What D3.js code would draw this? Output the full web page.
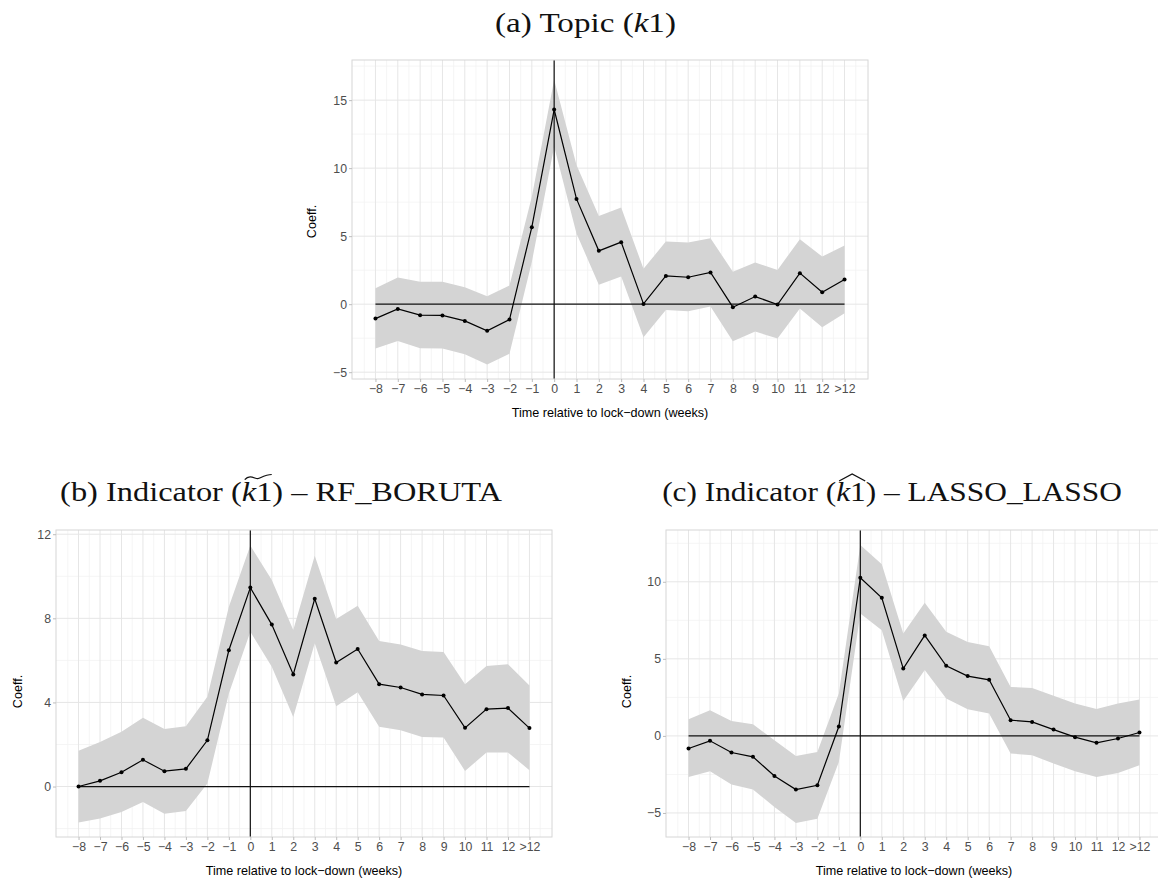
<!DOCTYPE html>
<html>
<head>
<meta charset="utf-8">
<script src="https://cdn.jsdelivr.net/npm/d3@7"></script>
<style>
  body { margin: 0; background: #fff; }
  svg { display: block; }
</style>
</head>
<body>
<svg id="chart" width="1158" height="883"></svg>
<script>
// weeks relative to the lock-down
const weekLabels = ["−8","−7","−6","−5","−4","−3","−2","−1","0","1","2","3","4","5","6","7","8","9","10","11","12",">12"];

// (a) Topic (k1)
const topicCoef  = [-1.06,-0.35,-0.81,-0.83,-1.23,-1.96,-1.13,5.66,14.31,7.74,3.92,4.56,0.02,2.08,1.98,2.33,-0.22,0.56,-0.03,2.28,0.88,1.81];
const topicLower = [-3.26,-2.70,-3.24,-3.26,-3.68,-4.44,-3.65,3.10,11.60,5.20,1.42,2.03,-2.43,-0.42,-0.52,-0.17,-2.72,-2.01,-2.53,-0.32,-1.69,-0.66];
const topicUpper = [1.18,1.96,1.64,1.64,1.25,0.59,1.37,7.90,16.50,10.24,6.49,7.10,2.60,4.60,4.53,4.85,2.38,3.06,2.52,4.78,3.50,4.31];

// (b) Indicator - RF_BORUTA
const borutaCoef  = [0.00,0.27,0.68,1.27,0.73,0.84,2.20,6.48,9.46,7.70,5.33,8.93,5.90,6.54,4.87,4.71,4.38,4.33,2.79,3.68,3.73,2.78];
const borutaLower = [-1.71,-1.52,-1.21,-0.73,-1.29,-1.16,0.14,4.43,7.36,5.70,3.31,6.81,3.82,4.48,2.84,2.68,2.36,2.33,0.74,1.62,1.62,0.78];
const borutaUpper = [1.70,2.12,2.60,3.27,2.74,2.87,4.27,8.55,11.46,9.82,7.44,10.97,7.97,8.60,6.92,6.76,6.44,6.40,4.87,5.73,5.82,4.81];

// (c) Indicator - LASSO_LASSO
const lassoCoef  = [-0.82,-0.32,-1.08,-1.36,-2.60,-3.48,-3.20,0.61,10.26,8.96,4.37,6.52,4.55,3.88,3.64,1.02,0.91,0.41,-0.08,-0.45,-0.17,0.22];
const lassoLower = [-2.66,-2.29,-3.16,-3.48,-4.61,-5.65,-5.37,-1.69,7.95,6.86,2.27,4.27,2.43,1.73,1.45,-1.14,-1.25,-1.79,-2.29,-2.66,-2.40,-1.90];
const lassoUpper = [1.08,1.67,0.97,0.76,-0.28,-1.30,-1.04,2.75,12.38,11.13,6.65,8.64,6.75,6.10,5.82,3.18,3.10,2.60,2.10,1.75,2.10,2.36];

// y axis breaks per panel
const topicTicks  = [-5, 0, 5, 10, 15];
const topicMinor  = [-2.5, 2.5, 7.5, 12.5, 17.5];
const borutaTicks = [0, 4, 8, 12];
const borutaMinor = [-2, 2, 6, 10];
const lassoTicks  = [-5, 0, 5, 10];
const lassoMinor  = [-2.5, 2.5, 7.5, 12.5];

const svg = d3.select("#chart");
const sans = "'Liberation Sans', Arial, sans-serif";
const serif = "'Liberation Serif', 'Times New Roman', serif";

function drawTitle(cfg) {
    // text is drawn at natural width then squeezed/stretched with a scale, accent lives in the same group
    const tg = svg.append("g");
    const t = tg.append("text")
        .attr("x", 0).attr("y", 0)
        .attr("text-anchor", "middle")
        .style("font-family", serif)
        .style("font-size", "27px")
        .attr("fill", "#111");
    cfg.title.forEach(p => {
        const s = t.append("tspan").text(p.t);
        if (p.italic) s.style("font-style", "italic");
    });
    const tn = t.node();
    const ratio = cfg.titleWidth / tn.getComputedTextLength();
    tg.attr("transform", `translate(${cfg.titleX},${cfg.titleY}) scale(${ratio},1)`);

    if (!cfg.accent) return;
    const first = cfg.title.findIndex(p => p.accent);
    const last = cfg.title.length - 1 - [...cfg.title].reverse().findIndex(p => p.accent);
    let start = 0;
    for (let i = 0; i < first; i++) start += cfg.title[i].t.length;
    let end = start - 1;
    for (let i = first; i <= last; i++) end += cfg.title[i].t.length;
    const e0 = tn.getExtentOfChar(start);
    const e1 = tn.getExtentOfChar(end);
    const x0 = e0.x + 2.5, x1 = e1.x + e1.width - 0.5, ya = e0.y + 1;
    const w = x1 - x0;
    let d;
    if (cfg.accent === "tilde") {
        d = `M${x0},${ya + 2} C${x0 + w * 0.2},${ya - 4} ${x0 + w * 0.4},${ya + 2} ${x0 + w * 0.5},${ya + 1}` +
            ` S${x0 + w * 0.8},${ya - 3} ${x1},${ya - 3}`;
    } else {
        d = `M${x0},${ya + 3} L${(x0 + x1) / 2},${ya - 4} L${x1},${ya + 3}`;
    }
    tg.append("path")
        .attr("d", d)
        .attr("fill", "none")
        .attr("stroke", "#111")
        .attr("stroke-width", 1.1);
}

function drawPanel(cfg) {
    const g = svg.append("g");
    const {left, right, top, bottom} = cfg.box;

    const x = d3.scaleLinear()
        .domain([-1.05, weekLabels.length - 1 + 1.05])
        .range([left, right]);
    const y = d3.scaleLinear()
        .domain(cfg.yDomain)
        .range([bottom, top]);

    const idx = weekLabels.map((d, i) => i);
    const xMinor = d3.range(-0.5, weekLabels.length, 1);

    const clip = "clip" + cfg.id;
    g.append("clipPath").attr("id", clip)
        .append("rect")
        .attr("x", left).attr("y", top)
        .attr("width", right - left).attr("height", bottom - top);

    const plot = g.append("g").attr("clip-path", `url(#${clip})`);

    // minor grid
    plot.selectAll(".vminor").data(xMinor).enter().append("line")
        .attr("x1", d => x(d)).attr("x2", d => x(d))
        .attr("y1", top).attr("y2", bottom)
        .attr("stroke", "#f2f2f2").attr("stroke-width", 0.8);
    plot.selectAll(".hminor").data(cfg.yMinor).enter().append("line")
        .attr("x1", left).attr("x2", right)
        .attr("y1", d => y(d)).attr("y2", d => y(d))
        .attr("stroke", "#f2f2f2").attr("stroke-width", 0.8);

    // major grid
    plot.selectAll(".vmajor").data(idx).enter().append("line")
        .attr("x1", d => x(d)).attr("x2", d => x(d))
        .attr("y1", top).attr("y2", bottom)
        .attr("stroke", "#e6e6e6").attr("stroke-width", 1);
    plot.selectAll(".hmajor").data(cfg.yTicks).enter().append("line")
        .attr("x1", left).attr("x2", right)
        .attr("y1", d => y(d)).attr("y2", d => y(d))
        .attr("stroke", "#e6e6e6").attr("stroke-width", 1);

    // confidence band
    const area = d3.area()
        .x((d, i) => x(i))
        .y0((d, i) => y(cfg.lower[i]))
        .y1((d, i) => y(cfg.upper[i]));
    plot.append("path")
        .datum(cfg.coef)
        .attr("fill", "#d4d4d4")
        .attr("d", area);

    // reference lines
    plot.append("line")
        .attr("x1", x(0)).attr("x2", x(weekLabels.length - 1))
        .attr("y1", y(0)).attr("y2", y(0))
        .attr("stroke", "#111").attr("stroke-width", 1.2);
    const zeroWeek = weekLabels.indexOf("0");
    plot.append("line")
        .attr("x1", x(zeroWeek)).attr("x2", x(zeroWeek))
        .attr("y1", top).attr("y2", bottom)
        .attr("stroke", "#111").attr("stroke-width", 1.2);

    // coefficient line + points
    const line = d3.line()
        .x((d, i) => x(i))
        .y(d => y(d));
    plot.append("path")
        .datum(cfg.coef)
        .attr("fill", "none")
        .attr("stroke", "#000")
        .attr("stroke-width", 1.2)
        .attr("d", line);
    plot.selectAll(".pt").data(cfg.coef).enter().append("circle")
        .attr("cx", (d, i) => x(i))
        .attr("cy", d => y(d))
        .attr("r", 2)
        .attr("fill", "#000");

    // panel border
    g.append("rect")
        .attr("x", left).attr("y", top)
        .attr("width", right - left).attr("height", bottom - top)
        .attr("fill", "none")
        .attr("stroke", "#d6d6d6").attr("stroke-width", 1);

    // axes
    const xAxis = g.append("g")
        .attr("transform", `translate(0,${bottom})`)
        .call(d3.axisBottom(x).tickValues(idx).tickFormat(i => weekLabels[i]).tickSize(3).tickPadding(2));
    const yAxis = g.append("g")
        .attr("transform", `translate(${left},0)`)
        .call(d3.axisLeft(y).tickValues(cfg.yTicks).tickFormat(d3.format("d")).tickSize(3).tickPadding(2));
    [xAxis, yAxis].forEach(a => {
        a.select(".domain").remove();
        a.selectAll(".tick line").attr("stroke", "#bdbdbd");
        a.selectAll(".tick text")
            .style("font-family", sans)
            .style("font-size", "12.3px")
            .attr("fill", "#4d4d4d");
    });

    // axis titles
    g.append("text")
        .attr("x", (left + right) / 2)
        .attr("y", bottom + 38)
        .attr("text-anchor", "middle")
        .style("font-family", sans)
        .style("font-size", "12.6px")
        .attr("fill", "#000")
        .text("Time relative to lock−down (weeks)");
    g.append("text")
        .attr("transform", `translate(${cfg.yTitleX},${(top + bottom) / 2 + cfg.yTitleShift}) rotate(-90)`)
        .attr("text-anchor", "middle")
        .style("font-family", sans)
        .style("font-size", "12.6px")
        .attr("fill", "#000")
        .text("Coeff.");

    drawTitle(cfg);
}

drawPanel({
    id: "a",
    box: {left: 352, right: 868, top: 60, bottom: 379},
    yDomain: [-5.5, 17.95],
    yTicks: topicTicks, yMinor: topicMinor,
    coef: topicCoef, lower: topicLower, upper: topicUpper,
    yTitleX: 316, yTitleShift: 2,
    titleX: 585.5, titleY: 32, titleWidth: 181,
    title: [{t: "(a) Topic ("}, {t: "k", italic: true}, {t: "1)"}]
});

drawPanel({
    id: "b",
    box: {left: 56, right: 552, top: 530, bottom: 837},
    yDomain: [-2.4, 12.2],
    yTicks: borutaTicks, yMinor: borutaMinor,
    coef: borutaCoef, lower: borutaLower, upper: borutaUpper,
    yTitleX: 22, yTitleShift: 8,
    titleX: 281, titleY: 501, titleWidth: 442,
    accent: "tilde",
    title: [{t: "(b) Indicator ("}, {t: "k", italic: true, accent: true}, {t: "1", accent: true}, {t: ") – RF_BORUTA"}]
});

drawPanel({
    id: "c",
    box: {left: 666, right: 1162, top: 530, bottom: 837},
    yDomain: [-6.56, 13.36],
    yTicks: lassoTicks, yMinor: lassoMinor,
    coef: lassoCoef, lower: lassoLower, upper: lassoUpper,
    yTitleX: 631, yTitleShift: 8,
    titleX: 892, titleY: 501, titleWidth: 460,
    accent: "hat",
    title: [{t: "(c) Indicator ("}, {t: "k", italic: true, accent: true}, {t: "1", accent: true}, {t: ") – LASSO_LASSO"}]
});
</script>
</body>
</html>
